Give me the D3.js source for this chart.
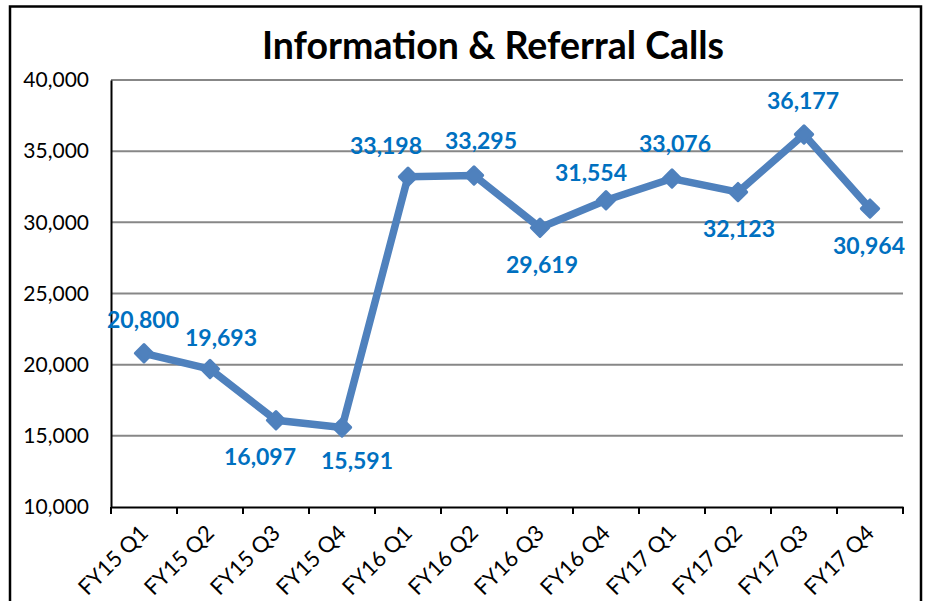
<!DOCTYPE html>
<html><head><meta charset="utf-8">
<script src="https://cdn.jsdelivr.net/npm/d3@7"></script>
<style>body{margin:0;background:#fff}svg{display:block}</style>
</head><body>
<svg id="chart" width="926" height="601"></svg>
<script>
const categories = ["FY15 Q1","FY15 Q2","FY15 Q3","FY15 Q4","FY16 Q1","FY16 Q2","FY16 Q3","FY16 Q4","FY17 Q1","FY17 Q2","FY17 Q3","FY17 Q4"];
const calls = [20800,19693,16097,15591,33198,33295,29619,31554,33076,32123,36177,30964];
const yTicks = [10000,15000,20000,25000,30000,35000,40000];
// label placement (layout only)
const labelDx = [-1,11,-16,15,-22,7,2,-15,3,1,-1,-1];
const labelDy = [-33,-31,37,34,-31,-34,37,-27,-35,37,-33,37];

const svg = d3.select("#chart");
const m = {left:111, right:903, top:80, bottom:507};
const font = "Lato, 'Open Sans', sans-serif";

svg.append("rect").attr("x",10).attr("y",6.5).attr("width",911).attr("height",610)
  .attr("fill","#fff").attr("stroke","#000").attr("stroke-width",2.5);

const x = d3.scaleBand().domain(categories).range([m.left, m.right]).padding(0);
const y = d3.scaleLinear().domain([10000,40000]).range([m.bottom, m.top]);

// gridlines
svg.append("g").selectAll("line").data(yTicks.slice(1)).join("line")
  .attr("x1",m.left).attr("x2",m.right)
  .attr("y1",d=>y(d)).attr("y2",d=>y(d))
  .attr("stroke","#878787").attr("stroke-width",2);

// y axis
const yAxis = svg.append("g").attr("transform",`translate(${m.left},0)`)
  .call(d3.axisLeft(y).tickValues(yTicks).tickFormat(d3.format(",")).tickSize(0).tickPadding(22));
yAxis.select(".domain").attr("stroke","#000").attr("stroke-width",2);
yAxis.selectAll("text").attr("font-family",font).attr("font-size",21).attr("fill","#000");

// x axis
const xAxis = svg.append("g").attr("transform",`translate(0,${m.bottom})`)
  .call(d3.axisBottom(x).tickSize(0).tickSizeOuter(0));
xAxis.select(".domain").attr("stroke","#000").attr("stroke-width",2);
const bounds = categories.map(c=>x(c)).concat([m.right]);
xAxis.append("g").selectAll("line").data(bounds).join("line")
  .attr("x1",d=>d).attr("x2",d=>d).attr("y1",0).attr("y2",7)
  .attr("stroke","#000").attr("stroke-width",2);
xAxis.selectAll(".tick text")
  .attr("font-family",font).attr("font-size",22).attr("fill","#000")
  .attr("text-anchor","end")
  .attr("transform","translate(0,22) rotate(-45)")
  .attr("dy","0.35em").attr("y",0).attr("x",0);

// title
svg.append("text").attr("x",493).attr("y",59).attr("text-anchor","middle")
  .attr("font-family",font).attr("font-weight","bold").attr("font-size",37.5)
  .attr("fill","#000").text("Information & Referral Calls");

const cx = (d,i)=>x(categories[i])+x.bandwidth()/2;
svg.append("path").datum(calls)
  .attr("d", d3.line().x(cx).y(d=>y(d)))
  .attr("fill","none").attr("stroke","#4F81BD").attr("stroke-width",7.5).attr("stroke-linejoin","round");
svg.append("g").selectAll("path").data(calls).join("path")
  .attr("d", d3.symbol().type(d3.symbolSquare).size(150))
  .attr("transform",(d,i)=>`translate(${cx(d,i)},${y(d)}) rotate(45)`)
  .attr("fill","#4F81BD").attr("stroke","#4F81BD").attr("stroke-width",3).attr("stroke-linejoin","round");
svg.append("g").selectAll("text").data(calls).join("text")
  .attr("x",(d,i)=>cx(d,i)+labelDx[i]).attr("y",(d,i)=>y(d)+labelDy[i])
  .attr("dy","0.35em").attr("text-anchor","middle")
  .attr("font-family",font).attr("font-weight","bold").attr("font-size",23)
  .attr("fill","#0070C0").text(d=>d3.format(",")(d));
</script>
</body></html>
